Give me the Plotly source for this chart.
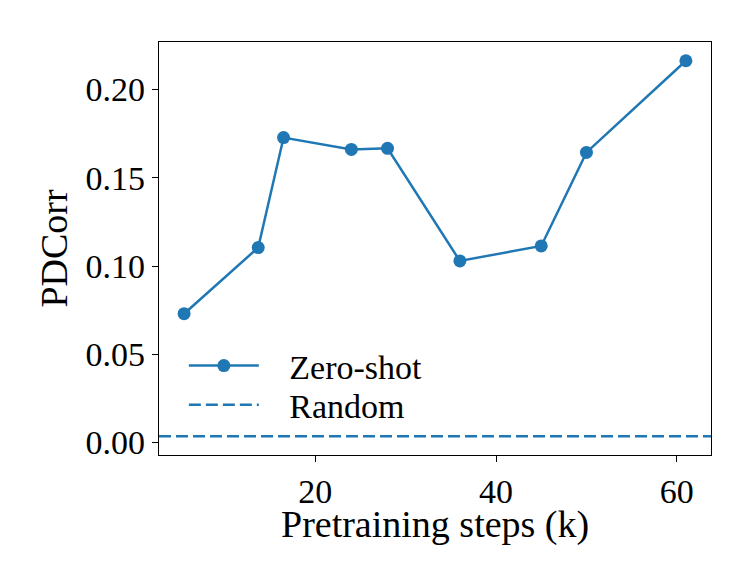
import plotly.graph_objects as go

# pretraining steps (k) and zero-shot PDCorr
steps = [5.5, 13.7, 16.5, 24, 28, 36, 45, 50, 61]
pdcorr = [0.073, 0.1105, 0.1728, 0.1661, 0.1667, 0.1029, 0.1114, 0.1644, 0.2163]
random_value = 0.0036

x_ticks = [20, 40, 60]
y_ticks = [0.00, 0.05, 0.10, 0.15, 0.20]

blue = "#1f77b4"
font = "Liberation Serif, Times New Roman, serif"
pad = "\u00a0\u00a0\u00a0"  # extra room between legend symbol and text

# matplotlib-style 5% margins
x_pad = (max(steps) - min(steps)) * 0.05
x_range = [min(steps) - x_pad, max(steps) + x_pad]
y_lo = min(pdcorr + [random_value])
y_hi = max(pdcorr + [random_value])
y_pad = (y_hi - y_lo) * 0.05
y_range = [y_lo - y_pad, y_hi + y_pad]

fig = go.Figure()
fig.add_trace(
    go.Scatter(
        x=steps,
        y=pdcorr,
        mode="lines+markers",
        name=pad + "Zero-shot",
        line=dict(color=blue, width=2.5),
        marker=dict(color=blue, size=13),
        legend="legend",
        showlegend=True,
    )
)
fig.add_trace(
    go.Scatter(
        x=x_range,
        y=[random_value, random_value],
        mode="lines",
        name=pad + "Random",
        line=dict(color=blue, width=2.5, dash="12px,5px"),
        legend="legend2",
        showlegend=True,
    )
)

axis_style = dict(
    showline=True,
    linecolor="black",
    linewidth=1.3,
    mirror=True,
    ticks="outside",
    ticklen=6,
    tickwidth=1.2,
    tickcolor="black",
    showgrid=False,
    zeroline=False,
    tickfont=dict(family=font, size=34, color="black"),
)

fig.update_xaxes(**axis_style, range=x_range, tickvals=x_ticks)
fig.update_yaxes(
    **axis_style,
    range=y_range,
    tickvals=y_ticks,
    tickformat=".2f",
    title=dict(text="PDCorr", font=dict(family=font, size=38, color="black"), standoff=6),
)

fig.add_annotation(
    text="Pretraining steps (k)",
    xref="paper",
    yref="paper",
    x=0.5,
    y=-0.168,
    xanchor="center",
    yanchor="middle",
    showarrow=False,
    font=dict(family=font, size=38, color="black"),
)

legend_style = dict(
    x=0.045,
    xanchor="left",
    yanchor="middle",
    bgcolor="rgba(255,255,255,0)",
    font=dict(family=font, size=34, color="black"),
    itemwidth=70,
)

# page body adds an 8px offset, margins compensate
fig.update_layout(
    width=753,
    height=586,
    showlegend=True,
    plot_bgcolor="white",
    paper_bgcolor="white",
    margin=dict(l=151, r=50, t=34, b=139),
    font=dict(family=font, color="black"),
    legend=dict(**legend_style, y=0.2155),
    legend2=dict(**legend_style, y=0.121),
)

fig.write_html("out.html")
